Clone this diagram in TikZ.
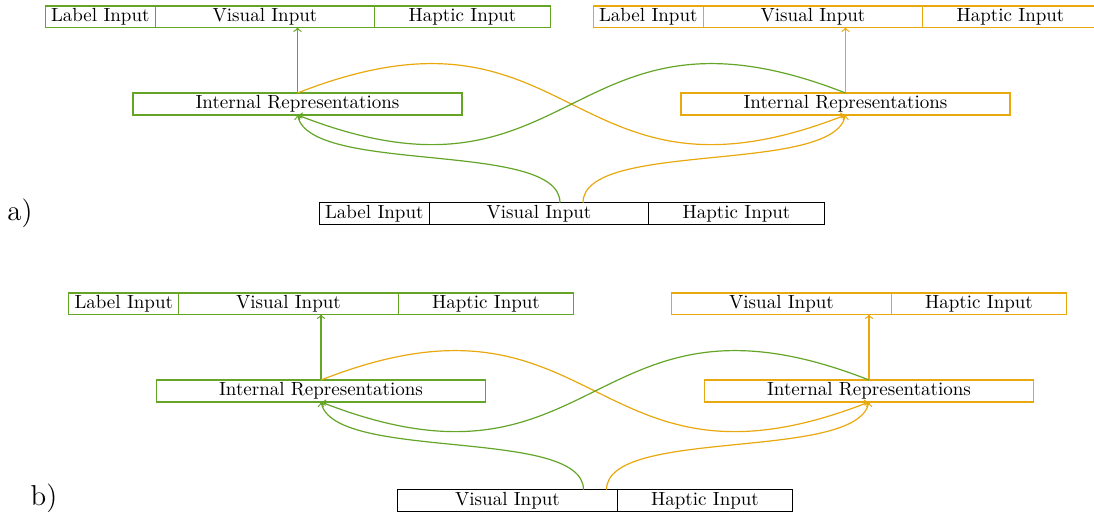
\documentclass[tikz,border=0pt]{standalone}
\definecolor{cg}{RGB}{100,165,40}
\definecolor{co}{RGB}{232,168,14}
\begin{document}
\begin{tikzpicture}[x=0.5pt,y=-0.5pt,
  inbox/.style={draw, rectangle, minimum height=10.75pt, inner sep=0pt, outer sep=0pt, anchor=west, line width=0.7pt, font=\fontsize{9.5}{11}\selectfont},
  labbox/.style={inbox, minimum width=55pt},
  visbox/.style={inbox, minimum width=109.75pt},
  hapbox/.style={inbox, minimum width=87.75pt},
  irbox/.style={draw, rectangle, minimum width=164.5pt, minimum height=11pt, inner sep=0pt, outer sep=0pt, line width=0.7pt, font=\fontsize{9.5}{11}\selectfont},
  conn/.style={line width=0.6pt, ->},
  panellab/.style={font=\Large, inner sep=0pt}]
\useasboundingbox (0,0) rectangle (1094,512);

% ---------------- panel a ----------------
\node[labbox, draw=cg] (aTL) at (45.25,16.75) {Label Input};
\node[visbox, draw=cg] (aTV) at (aTL.east) {Visual Input};
\node[hapbox, draw=cg] (aTH) at (aTV.east) {Haptic Input};

\node[labbox, draw=co] (aRL) at (593.25,16.75) {Label Input};
\node[visbox, draw=co] (aRV) at (aRL.east) {Visual Input};
\node[hapbox, draw=co] (aRH) at (aRV.east) {Haptic Input};

\node[irbox, draw=cg] (aIG) at (297.5,104) {Internal Representations};
\node[irbox, draw=co] (aIO) at (845.5,104) {Internal Representations};

\node[labbox, draw=black] (aBL) at (319.25,213.5) {Label Input};
\node[visbox, draw=black] (aBV) at (aBL.east) {Visual Input};
\node[hapbox, draw=black] (aBH) at (aBV.east) {Haptic Input};

\node[panellab] (aLab) at (20,213) {a)};

\coordinate (aSG) at (560,202.75);
\coordinate (aSO) at (583,202.75);

\draw[conn, cg] (aIG.north) -- (aIG.north |- aTV.south);
\draw[conn, co] (aIO.north) -- (aIO.north |- aRV.south);
\draw[conn, co] (aIG.north) .. controls +(280,-110) and +(-280,110) .. (aIO.south);
\draw[conn, cg] (aIO.north) .. controls +(-280,-110) and +(280,110) .. (aIG.south);
\draw[conn, cg] (aSG) .. controls +(0,-63) and +(13,60) .. (aIG.south);
\draw[conn, co] (aSO) .. controls +(0,-63) and +(-13,60) .. (aIO.south);

% ---------------- panel b ----------------
\begin{scope}[shift={(23.5,287)}]
\node[labbox, draw=cg] (bTL) at (45.25,16.75) {Label Input};
\node[visbox, draw=cg] (bTV) at (bTL.east) {Visual Input};
\node[hapbox, draw=cg] (bTH) at (bTV.east) {Haptic Input};

\node[visbox, draw=co] (bRV) at (648.25,16.75) {Visual Input};
\node[hapbox, draw=co] (bRH) at (bRV.east) {Haptic Input};

\node[irbox, draw=cg] (bIG) at (297.5,104) {Internal Representations};
\node[irbox, draw=co] (bIO) at (845.5,104) {Internal Representations};

\node[visbox, draw=black] (bBV) at (374.25,213.5) {Visual Input};
\node[hapbox, draw=black] (bBH) at (bBV.east) {Haptic Input};

\node[panellab] (bLab) at (20.5,211) {b)};

\coordinate (bSG) at (560,202.75);
\coordinate (bSO) at (583,202.75);

\draw[conn, cg] (bIG.north) -- (bIG.north |- bTV.south);
\draw[conn, co] (bIO.north) -- (bIO.north |- bRV.south);
\draw[conn, co] (bIG.north) .. controls +(280,-110) and +(-280,110) .. (bIO.south);
\draw[conn, cg] (bIO.north) .. controls +(-280,-110) and +(280,110) .. (bIG.south);
\draw[conn, cg] (bSG) .. controls +(0,-63) and +(13,60) .. (bIG.south);
\draw[conn, co] (bSO) .. controls +(0,-63) and +(-13,60) .. (bIO.south);
\end{scope}
\end{tikzpicture}
\end{document}
